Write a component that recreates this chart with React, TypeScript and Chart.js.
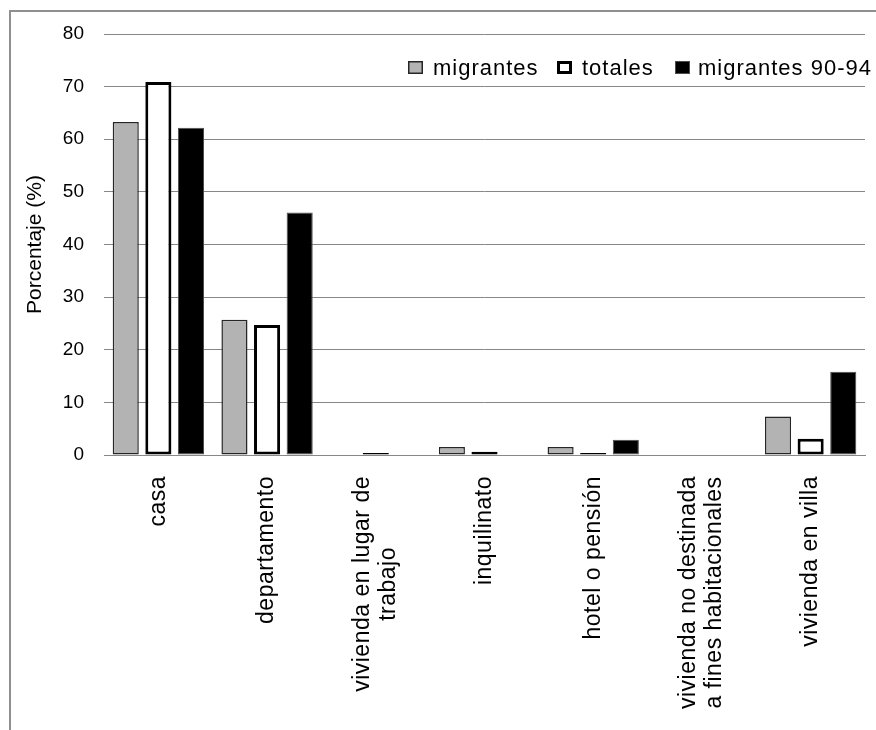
import React, { useEffect, useRef } from "react";
import { Chart, registerables } from "chart.js";

Chart.register(...registerables);

const categories: (string | string[])[] = [
  "casa",
  "departamento",
  ["vivienda en lugar de", "trabajo"],
  "inquilinato",
  "hotel o pensión",
  ["vivienda no destinada", "a fines habitacionales"],
  "vivienda en villa",
];

const seriesNames = ["migrantes", "totales", "migrantes 90-94"];
const migrantes = [63.3, 25.7, 0, 1.5, 1.5, 0, 7.3];
const totales = [70.9, 24.7, 0.4, 0.6, 0.4, 0, 3.1];
const migrantes9094 = [62.2, 46.1, 0, 0, 2.9, 0, 15.8];

const yMin = 0;
const yMax = 80;
const yStep = 10;
const yTitle = "Porcentaje (%)";

const FONT = '"Liberation Sans", Arial, sans-serif';

const xLabelPlugin = {
  id: "xLabelPlugin",
  afterDraw(chart: any) {
    const ctx = chart.ctx as CanvasRenderingContext2D;
    const xs = chart.scales.x;
    const labels = chart.data.labels as (string | string[])[];
    ctx.save();
    ctx.font = `23px ${FONT}`;
    (ctx as any).letterSpacing = "0.5px";
    ctx.fillStyle = "#000";
    ctx.textAlign = "center";
    ctx.textBaseline = "middle";
    const lineH = 26;
    labels.forEach((lab, i) => {
      const lines = Array.isArray(lab) ? lab : [lab];
      const x = xs.getPixelForTick(i);
      const y = chart.chartArea.bottom + 21;
      const w = Math.max(...lines.map((l) => ctx.measureText(l).width));
      ctx.save();
      ctx.translate(x, y);
      ctx.rotate(-Math.PI / 2);
      lines.forEach((l, j) => {
        ctx.fillText(l, -w / 2, (j - (lines.length - 1) / 2) * lineH);
      });
      ctx.restore();
    });
    ctx.restore();
  },
};

const legendPlugin = {
  id: "legendPlugin",
  afterDraw(chart: any) {
    const ctx = chart.ctx as CanvasRenderingContext2D;
    const boxX = [408, 557, 675];
    const textX = [433, 582, 698];
    const boxY = 61;
    const boxW = 15;
    const boxH = 13;
    ctx.save();
    ctx.font = `22px ${FONT}`;
    (ctx as any).letterSpacing = "1px";
    ctx.textBaseline = "middle";
    ctx.textAlign = "left";
    chart.data.datasets.forEach((ds: any, i: number) => {
      const bw = ds.borderWidth as number;
      ctx.fillStyle = ds.borderColor;
      ctx.fillRect(boxX[i], boxY, boxW, boxH);
      ctx.fillStyle = ds.backgroundColor;
      ctx.fillRect(boxX[i] + bw, boxY + bw, boxW - 2 * bw, boxH - 2 * bw);
      ctx.fillStyle = "#000";
      ctx.fillText(ds.label, textX[i], boxY + boxH / 2 + 1);
    });
    ctx.restore();
  },
};

export default function App() {
  const ref = useRef<HTMLCanvasElement>(null);

  useEffect(() => {
    if (!ref.current) return;
    const chart = new Chart(ref.current, {
      type: "bar",
      data: {
        labels: categories as any,
        datasets: [
          {
            label: seriesNames[0],
            data: migrantes,
            backgroundColor: "#b3b3b3",
            borderColor: "#262626",
            borderWidth: 1.5,
            borderSkipped: false,
          },
          {
            label: seriesNames[1],
            data: totales,
            backgroundColor: "#ffffff",
            borderColor: "#000000",
            borderWidth: 3,
            borderSkipped: false,
          },
          {
            label: seriesNames[2],
            data: migrantes9094,
            backgroundColor: "#000000",
            borderColor: "#4d4d4d",
            borderWidth: 1,
            borderSkipped: false,
          },
        ],
      },
      options: {
        responsive: false,
        animation: false,
        devicePixelRatio: 1,
        layout: { padding: { left: 12, top: 34, right: 11, bottom: 0 } },
        datasets: {
          bar: { categoryPercentage: 0.9, barPercentage: 0.8 },
        },
        plugins: {
          legend: { display: false },
          tooltip: { enabled: false },
        },
        scales: {
          x: {
            grid: { display: false, drawTicks: false },
            border: { display: true, color: "#878787", width: 1 },
            ticks: { display: false },
            afterFit: (s: any) => {
              s.height = 275;
            },
          },
          y: {
            min: yMin,
            max: yMax,
            grid: { color: "#878787", lineWidth: 1, drawTicks: false },
            border: { display: false },
            ticks: {
              stepSize: yStep,
              padding: 20,
              color: "#000",
              font: { family: FONT, size: 19 },
            },
            title: {
              display: true,
              text: yTitle,
              color: "#000",
              font: { family: FONT, size: 21 },
              padding: { top: 11, bottom: 0 },
            },
            afterFit: (s: any) => {
              s.width = 92;
            },
          },
        },
      },
      plugins: [xLabelPlugin, legendPlugin],
    });
    return () => chart.destroy();
  }, []);

  return (
    <div
      style={{
        position: "absolute",
        left: 0,
        top: 0,
        width: 876,
        height: 730,
        overflow: "hidden",
        background: "#fff",
      }}
    >
      <div
        style={{
          position: "absolute",
          left: 9,
          top: 10,
          width: 900,
          height: 800,
          borderLeft: "2px solid #8f8f8f",
          borderTop: "2px solid #8f8f8f",
        }}
      />
      <canvas
        ref={ref}
        width={876}
        height={730}
        style={{ position: "absolute", left: 0, top: 0, width: 876, height: 730 }}
      />
    </div>
  );
}
